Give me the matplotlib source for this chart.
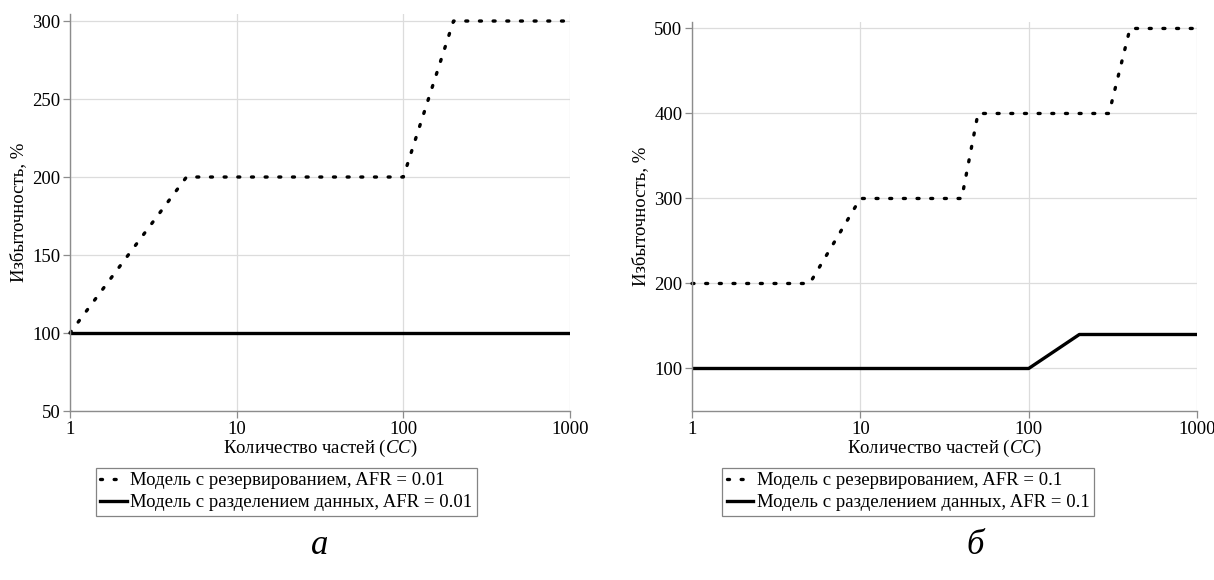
import matplotlib
matplotlib.use("Agg")
import matplotlib.pyplot as plt

plt.rcParams["font.family"] = ["Liberation Serif", "DejaVu Serif"]
plt.rcParams["mathtext.fontset"] = "custom"
plt.rcParams["mathtext.it"] = "Liberation Serif:italic"
plt.rcParams["mathtext.rm"] = "Liberation Serif"

# panel a (AFR = 0.01)
a_res_x = [1, 5, 100, 200, 1000]
a_res_y = [100, 200, 200, 300, 300]
a_split_x = [1, 1000]
a_split_y = [100, 100]

# panel b (AFR = 0.1)
b_res_x = [1, 5, 10, 40, 50, 300, 400, 1000]
b_res_y = [200, 200, 300, 300, 400, 400, 500, 500]
b_split_x = [1, 100, 200, 1000]
b_split_y = [100, 100, 140, 140]

x_ticks = [1, 10, 100, 1000]
a_yticks = [50, 100, 150, 200, 250, 300]
b_yticks = [100, 200, 300, 400, 500]

W, H = 1214, 580
fig = plt.figure(figsize=(W / 100, H / 100), dpi=100)

dot_style = dict(color="black", lw=2.4, ls=(0, (0.6, 3.5)), dash_capstyle="round")
solid_style = dict(color="black", lw=2.4)
FS = 13.5


def px(x0, y0, x1, y1):
    return [x0 / W, 1 - y1 / H, (x1 - x0) / W, (y1 - y0) / H]


def setup(ax, yticks, ylim):
    ax.set_xscale("log")
    ax.set_xlim(1, 1000)
    ax.set_ylim(*ylim)
    ax.set_xticks(x_ticks)
    ax.set_xticklabels([str(t) for t in x_ticks])
    ax.minorticks_off()
    ax.set_yticks(yticks)
    ax.grid(True, color="#dcdcdc", lw=0.9)
    ax.set_axisbelow(True)
    for s in ["top", "right"]:
        ax.spines[s].set_visible(False)
    for s in ["left", "bottom"]:
        ax.spines[s].set_color("#8c8c8c")
        ax.spines[s].set_linewidth(1.0)
    ax.tick_params(colors="#8c8c8c", labelcolor="black", labelsize=FS,
                   length=5, width=0.9, pad=2)
    ax.set_xlabel("Количество частей ($\\mathit{CC}$)", fontsize=FS, labelpad=0)
    ax.set_ylabel("Избыточность, %", fontsize=FS, labelpad=4)


def legend(ax, handles, labels, cx):
    lg = ax.legend(handles, labels, loc="center", bbox_to_anchor=(cx, 0.152),
                   bbox_transform=fig.transFigure, fontsize=FS, frameon=True,
                   fancybox=False, handlelength=1.4, handletextpad=0.2,
                   borderpad=0.25, labelspacing=0.25, borderaxespad=0)
    lg.get_frame().set_edgecolor("#666666")
    lg.get_frame().set_linewidth(0.9)


ax1 = fig.add_axes(px(70, 14, 570, 411))
setup(ax1, a_yticks, (50, 304.5))
l1, = ax1.plot(a_res_x, a_res_y, **dot_style, clip_on=False)
l2, = ax1.plot(a_split_x, a_split_y, **solid_style)
legend(ax1, [l1, l2], ["Модель с резервированием, AFR = 0.01",
                        "Модель с разделением данных, AFR = 0.01"], 0.236)

ax2 = fig.add_axes(px(692, 22, 1197, 411))
setup(ax2, b_yticks, (50, 507.6))
r1, = ax2.plot(b_res_x, b_res_y, **dot_style, clip_on=False)
r2, = ax2.plot(b_split_x, b_split_y, **solid_style)
legend(ax2, [r1, r2], ["Модель с резервированием, AFR = 0.1",
                        "Модель с разделением данных, AFR = 0.1"], 0.748)

fig.text(320 / W, 1 - 545 / H, "а", fontsize=25, style="italic",
         ha="center", va="center")
fig.text(975 / W, 1 - 545 / H, "б", fontsize=25, style="italic",
         ha="center", va="center")

fig.savefig("out.png", dpi=100)
